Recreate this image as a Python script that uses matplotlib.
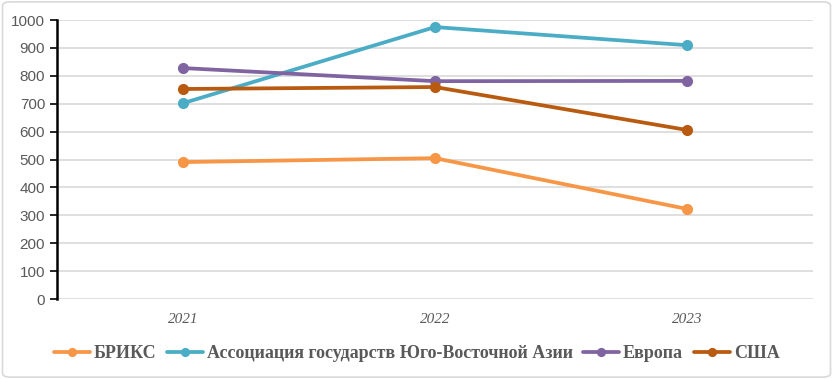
import matplotlib.pyplot as plt
from matplotlib.patches import FancyBboxPatch

years = ['2021', '2022', '2023']
brics = [491, 505, 323]
asean = [702, 975, 910]
europe = [828, 781, 782]
usa = [753, 760, 606]

names = ['БРИКС', 'Ассоциация государств Юго-Восточной Азии', 'Европа', 'США']
colors = ['#F79646', '#4BACC6', '#8064A2', '#B85A10']

fig = plt.figure(figsize=(8.33, 3.79), dpi=100)
ax = fig.add_axes([0.0684, 0.211, 0.9076, 0.736])

x = range(len(years))
for vals, name, c in zip([brics, asean, europe, usa], names, colors):
    ax.plot(x, vals, color=c, lw=2.7, marker='o', ms=7, label=name,
            solid_capstyle='round')

ax.set_xlim(-0.5, 2.5)
ax.set_ylim(0, 1000)
ax.set_yticks(range(0, 1001, 100))
ax.set_xticks(list(x))
ax.set_xticklabels(years, fontstyle='italic', family='Liberation Serif',
                   fontsize=11, color='#595959')
ax.tick_params(axis='x', length=0, pad=10)
ax.tick_params(axis='y', length=5, width=1.2, color='black',
               labelcolor='#595959', labelsize=11)
for lab in ax.get_yticklabels():
    lab.set_family('Liberation Sans')

ax.grid(axis='y', color='#D9D9D9', lw=1.2)
ax.set_axisbelow(True)
for s in ['top', 'right', 'bottom']:
    ax.spines[s].set_visible(False)
ax.spines['left'].set_linewidth(1.8)
ax.spines['left'].set_color('black')

fig.legend(loc='center', bbox_to_anchor=(0.5, 0.066), ncol=4, frameon=False,
           prop={'family': 'Liberation Serif', 'size': 13, 'weight': 'bold'},
           handlelength=2.0, handletextpad=0.2, columnspacing=0.6,
           markerscale=0.8, labelcolor='#595959')

border = FancyBboxPatch((0.003, 0.005), 0.994, 0.99, boxstyle='round,pad=0,rounding_size=0.01',
                        transform=fig.transFigure, fill=False, ec='#D9D9D9', lw=1.2)
fig.patches.append(border)

fig.savefig('out.png', dpi=100)
